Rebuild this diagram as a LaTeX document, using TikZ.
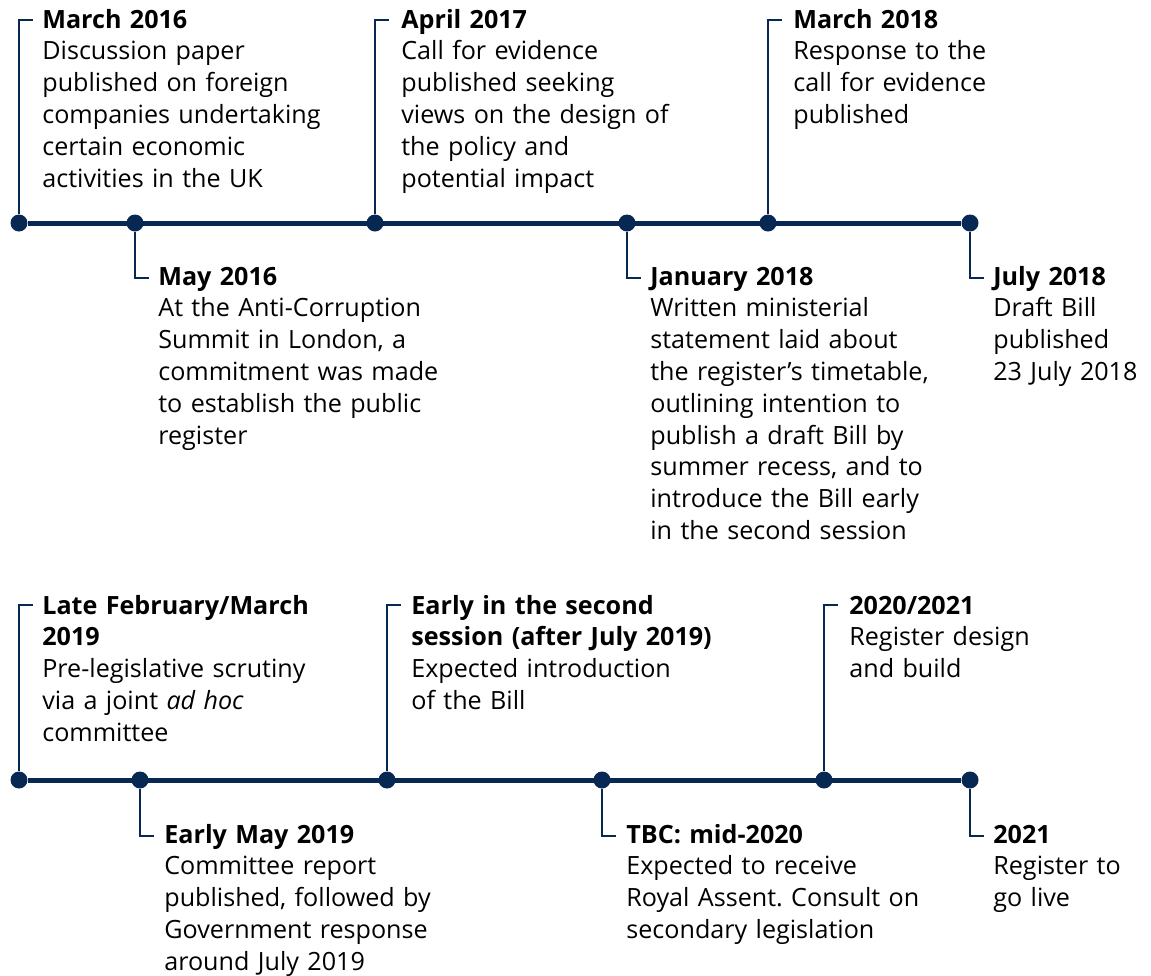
\documentclass[tikz,border=0pt]{standalone}
\usepackage{fontspec}
\setmainfont{Open Sans}
\usepackage{xcolor}
\usetikzlibrary{positioning}
\definecolor{navy}{RGB}{8,40,84}
\frenchspacing

\begin{document}
\begin{tikzpicture}[x=0.02cm,y=-0.02cm,
    axis/.style={navy,line width=0.1cm},
    dot/.style={circle,fill=navy,inner sep=0pt,minimum size=0.34cm},
    conn/.style={navy,line width=0.03cm},
    lbl/.style={anchor=base west,inner sep=0pt,text width=9cm,align=left,
                font=\fontsize{14.3}{18.1}\selectfont}]
    \useasboundingbox (0,0) rectangle (1151,975);
    % first row
    \node[dot] (d1) at (19,223) {};
    \node[dot] (d2) at (135,223) {};
    \node[dot] (d3) at (375,223) {};
    \node[dot] (d4) at (627,223) {};
    \node[dot] (d5) at (768,223) {};
    \node[dot] (d6) at (970,223) {};
    \draw[axis] (d1) -- (d6);
    \coordinate (c1) at (33,20);
    \coordinate (c2) at (149,278);
    \coordinate (c3) at (389,20);
    \coordinate (c4) at (641,278);
    \coordinate (c5) at (782,20);
    \coordinate (c6) at (984,278);
    \draw[conn] (d1) |- (c1);
    \draw[conn] (d2) |- (c2);
    \draw[conn] (d3) |- (c3);
    \draw[conn] (d4) |- (c4);
    \draw[conn] (d5) |- (c5);
    \draw[conn] (d6) |- (c6);
    \node[lbl] (t1) at (42,28) {\textbf{March 2016}\\Discussion paper\\published on foreign\\companies undertaking\\certain economic\\activities in the UK};
    \node[lbl] (t2) at (158,285) {\textbf{May 2016}\\At the Anti-Corruption\\Summit in London, a\\commitment was made\\to establish the public\\register};
    \node[lbl] (t3) at (401,28) {\textbf{April 2017}\\Call for evidence\\published seeking\\views on the design of\\the policy and\\potential impact};
    \node[lbl] (t4) at (650,285) {\textbf{January 2018}\\Written ministerial\\statement laid about\\the register’s timetable,\\outlining intention to\\publish a draft Bill by\\summer recess, and to\\introduce the Bill early\\in the second session};
    \node[lbl] (t5) at (793,28) {\textbf{March 2018}\\Response to the\\call for evidence\\published};
    \node[lbl] (t6) at (993,285) {\textbf{July 2018}\\Draft Bill\\published\\23 July 2018};
    % second row
    \node[dot] (e1) at (19,780) {};
    \node[dot] (e2) at (140,780) {};
    \node[dot] (e3) at (387,780) {};
    \node[dot] (e4) at (602,780) {};
    \node[dot] (e5) at (824,780) {};
    \node[dot] (e6) at (970,780) {};
    \draw[axis] (e1) -- (e6);
    \coordinate (f1) at (33,605);
    \coordinate (f2) at (154,836);
    \coordinate (f3) at (401,605);
    \coordinate (f4) at (616,836);
    \coordinate (f5) at (838,605);
    \coordinate (f6) at (984,836);
    \draw[conn] (e1) |- (f1);
    \draw[conn] (e2) |- (f2);
    \draw[conn] (e3) |- (f3);
    \draw[conn] (e4) |- (f4);
    \draw[conn] (e5) |- (f5);
    \draw[conn] (e6) |- (f6);
    \node[lbl] (u1) at (42,614) {\textbf{Late February/March}\\\textbf{2019}\\Pre-legislative scrutiny\\via a joint \textit{ad hoc}\\committee};
    \node[lbl] (u2) at (164,843) {\textbf{Early May 2019}\\Committee report\\published, followed by\\Government response\\around July 2019};
    \node[lbl] (u3) at (411,614) {\textbf{Early in the second}\\\textbf{session (after July 2019)}\\Expected introduction\\of the Bill};
    \node[lbl] (u4) at (626,843) {\textbf{TBC: mid-2020}\\Expected to receive\\Royal Assent. Consult on\\secondary legislation};
    \node[lbl] (u5) at (849,614) {\textbf{2020/2021}\\Register design\\and build};
    \node[lbl] (u6) at (993,843) {\textbf{2021}\\Register to\\go live};
\end{tikzpicture}
\end{document}
